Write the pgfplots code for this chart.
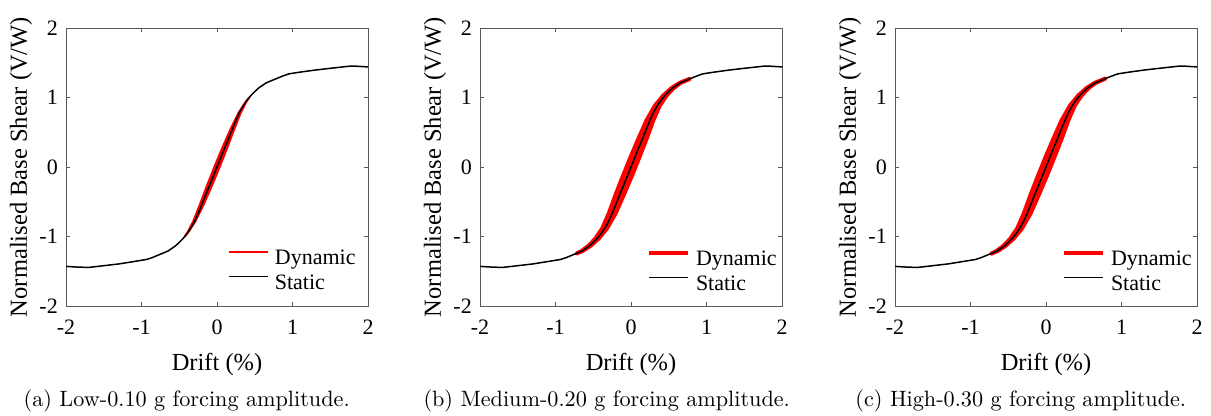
\documentclass[border=0pt]{standalone}
\usepackage{fontspec}
\setmainfont{Liberation Serif}
\newfontfamily\plotfont{Liberation Serif}
\newfontfamily\capfont{lmroman10-regular}[Extension=.otf]
\usepackage{pgfplots}
\pgfplotsset{compat=1.18}
\usepackage{pgfplotstable}

\pgfplotstableread{
x y
-2.00 -1.430
-1.85 -1.440
-1.70 -1.445
-1.50 -1.420
-1.30 -1.395
-1.10 -1.360
-0.93 -1.330
-0.85 -1.300
-0.75 -1.255
-0.65 -1.210
-0.55 -1.135
-0.50 -1.085
-0.45 -1.030
-0.40 -0.965
-0.35 -0.885
-0.30 -0.790
-0.25 -0.670
-0.20 -0.535
-0.15 -0.400
-0.10 -0.270
-0.05 -0.135
0.00 0.000
0.05 0.135
0.10 0.270
0.15 0.400
0.20 0.535
0.25 0.670
0.30 0.790
0.35 0.885
0.40 0.965
0.45 1.030
0.50 1.085
0.55 1.135
0.65 1.210
0.75 1.255
0.85 1.300
0.95 1.340
1.10 1.365
1.30 1.395
1.50 1.420
1.75 1.450
1.85 1.450
2.00 1.440
}\staticdata

\pgfplotstableread{
x y
0.425 0.9975
0.375 0.930
0.286 0.780
0.175 0.535
0.068 0.270
-0.035 0.000
-0.133 -0.270
-0.225 -0.535
-0.314 -0.780
-0.385 -0.930
-0.430 -1.005
-0.375 -0.930
-0.286 -0.780
-0.175 -0.535
-0.068 -0.270
0.035 0.000
0.133 0.270
0.225 0.535
0.314 0.780
0.385 0.930
0.425 0.9975
}\dynA

\pgfplotstableread{
x y
0.780 1.270
0.748 1.255
0.643 1.210
0.536 1.135
0.428 1.030
0.318 0.885
0.205 0.670
0.095 0.400
-0.009 0.135
-0.109 -0.135
-0.205 -0.400
-0.295 -0.670
-0.382 -0.885
-0.472 -1.030
-0.564 -1.135
-0.657 -1.210
-0.722 -1.245
-0.643 -1.210
-0.536 -1.135
-0.428 -1.030
-0.318 -0.885
-0.205 -0.670
-0.095 -0.400
0.009 -0.135
0.109 0.135
0.205 0.400
0.295 0.670
0.382 0.885
0.472 1.030
0.564 1.135
0.657 1.210
0.752 1.255
0.780 1.270
}\dynB

\pgfplotstableread{
x y
0.790 1.275
0.748 1.255
0.643 1.210
0.536 1.135
0.428 1.030
0.318 0.885
0.205 0.670
0.095 0.400
-0.009 0.135
-0.109 -0.135
-0.205 -0.400
-0.295 -0.670
-0.382 -0.885
-0.472 -1.030
-0.564 -1.135
-0.657 -1.210
-0.730 -1.250
-0.643 -1.210
-0.536 -1.135
-0.428 -1.030
-0.318 -0.885
-0.205 -0.670
-0.095 -0.400
0.009 -0.135
0.109 0.135
0.205 0.400
0.295 0.670
0.382 0.885
0.472 1.030
0.564 1.135
0.657 1.210
0.752 1.255
0.790 1.275
}\dynC

\pgfplotsset{
  panel/.style={
    scale only axis, width=302bp, height=278bp, anchor=south west,
    xmin=-2, xmax=2, ymin=-2, ymax=2,
    xtick={-2,-1,0,1,2}, ytick={-2,-1,0,1,2},
    xticklabels={-2,-1,0,1,2}, yticklabels={-2,-1,0,1,2},
    tick align=inside, major tick length=4bp,
    axis line style={black!65, line width=0.7bp},
    every tick/.style={black!65, line width=0.7bp},
    ticklabel style={font=\plotfont\fontsize{22bp}{26bp}\selectfont, inner sep=0pt},
    xticklabel style={anchor=base, yshift=-29bp},
    yticklabel style={anchor=east, xshift=-8bp},
    xlabel={Drift (\%)}, ylabel={Normalised Base Shear (V/W)},
    every axis x label/.style={at={(rel axis cs:0.5,0)}, anchor=center, yshift=-58bp, font=\plotfont\fontsize{24.5bp}{28bp}\selectfont},
    every axis y label/.style={at={(rel axis cs:0,0.5)}, xshift=-45bp, rotate=90, anchor=center, font=\plotfont\fontsize{24.5bp}{28bp}\selectfont},
    legend cell align=left,
    legend image code/.code={\draw[##1, fill=none] (0bp,7bp) -- (39bp,7bp);},
    legend style={draw=none, fill=none, inner sep=0pt, outer sep=0pt,
      column sep=6bp, row sep=4bp,
      font=\plotfont\fontsize{22bp}{26bp}\selectfont,
      nodes={inner sep=0pt, text height=16bp, text depth=5bp},
      anchor=north west},
  }
}

\begin{document}
\begin{tikzpicture}
\useasboundingbox (0,0) rectangle (1211bp,416bp);

\begin{axis}[panel, at={(66bp,110bp)}, legend style={at={(0.536,0.2086)}}]
\addplot[red, fill=red, line width=2bp, line join=round] table[x=x,y=y] {\dynA} -- cycle;
\addlegendentry{Dynamic}
\addplot[black, line width=1.5bp] table[x=x,y=y] {\staticdata};
\addlegendentry{Static}
\end{axis}

\begin{axis}[panel, at={(480bp,110bp)}, legend style={at={(0.553,0.205)}}]
\addplot[red, fill=red, line width=4bp, line join=round] table[x=x,y=y] {\dynB} -- cycle;
\addlegendentry{Dynamic}
\addplot[black, line width=1.5bp] table[x=x,y=y] {\staticdata};
\addlegendentry{Static}
\end{axis}

\begin{axis}[panel, at={(895bp,110bp)}, legend style={at={(0.553,0.205)}}]
\addplot[red, fill=red, line width=4bp, line join=round] table[x=x,y=y] {\dynC} -- cycle;
\addlegendentry{Dynamic}
\addplot[black, line width=1.5bp] table[x=x,y=y] {\staticdata};
\addlegendentry{Static}
\end{axis}

\node[anchor=base, inner sep=0pt] at (186.7bp,10bp) {\capfont\fontsize{22.2bp}{26bp}\selectfont (a) Low-0.10 g forcing amplitude.};
\node[anchor=base, inner sep=0pt] at (606.7bp,10bp) {\capfont\fontsize{22.2bp}{26bp}\selectfont (b) Medium-0.20 g forcing amplitude.};
\node[anchor=base, inner sep=0pt] at (1020.8bp,10bp) {\capfont\fontsize{22.2bp}{26bp}\selectfont (c) High-0.30 g forcing amplitude.};
\end{tikzpicture}
\end{document}
